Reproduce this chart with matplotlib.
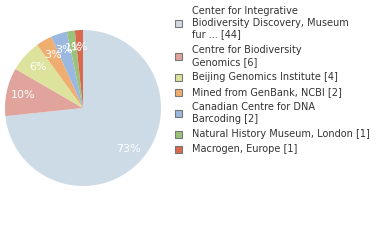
import matplotlib
matplotlib.use("Agg")
import matplotlib.pyplot as plt
from matplotlib.patches import Rectangle

labels = [
    "Center for Integrative\nBiodiversity Discovery, Museum\nfur ... [44]",
    "Centre for Biodiversity\nGenomics [6]",
    "Beijing Genomics Institute [4]",
    "Mined from GenBank, NCBI [2]",
    "Canadian Centre for DNA\nBarcoding [2]",
    "Natural History Museum, London [1]",
    "Macrogen, Europe [1]",
]
counts = [44, 6, 4, 2, 2, 1, 1]
colors = ["#cddbe7", "#e0a49c", "#dde39c", "#f0ad70", "#9ab8e0", "#9bc27a", "#d9694e"]

fig = plt.figure(figsize=(3.8, 2.4), dpi=100)
ax = fig.add_axes([5 / 380, 54 / 240, 156 / 380, 156 / 240])

wedges, texts, autotexts = ax.pie(
    counts, colors=colors, startangle=90, counterclock=False,
    autopct=lambda p: "%d%%" % int(p), pctdistance=0.78,
    textprops=dict(color="white", fontsize=8),
    wedgeprops=dict(linewidth=0),
)
ax.set_xlim(-1, 1)
ax.set_ylim(-1, 1)
ax.set_aspect("equal")

# legend drawn by hand
y = 11
for lab, c in zip(labels, colors):
    n = lab.count("\n") + 1
    yc = y + (n - 1) * 12 / 2
    fig.patches.append(Rectangle((174.5 / 380, 1 - (yc + 4) / 240), 7.5 / 380, 7.5 / 240,
                                 transform=fig.transFigure, facecolor=c,
                                 edgecolor="#777777", linewidth=0.8))
    fig.text(192 / 380, 1 - (y - 5) / 240, lab, fontsize=7, color="#333333",
             va="top", ha="left", linespacing=1.2)
    y += n * 12 + 3

fig.savefig("out.png", dpi=100)
